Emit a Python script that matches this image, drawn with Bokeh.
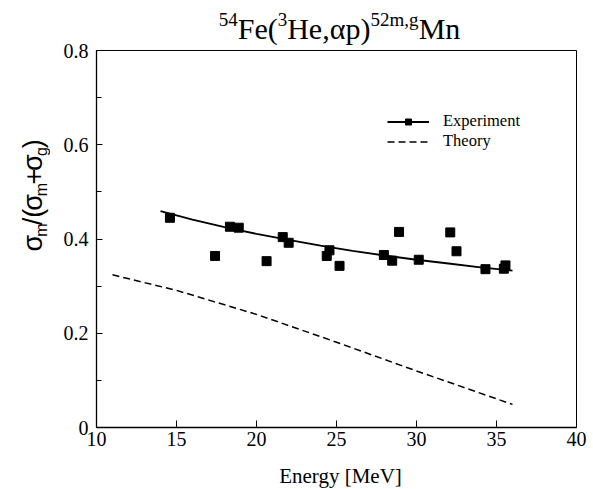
import math
from bokeh.plotting import figure
from bokeh.layouts import column, row
from bokeh.models import (FixedTicker, CustomJSTickFormatter, Legend, LegendItem, Range1d)
from bokeh.core.properties import value
from bokeh.embed import file_html
from bokeh.resources import INLINE

# ---------------- data ----------------
exp_energy = [14.59, 17.41, 18.34, 18.89, 20.63, 21.64, 22.01, 24.39, 24.56, 25.19,
              27.96, 28.48, 28.91, 30.14, 32.11, 32.50, 34.31, 35.46, 35.56]
exp_ratio = [0.445, 0.364, 0.426, 0.424, 0.353, 0.404, 0.392, 0.364, 0.376, 0.343,
             0.366, 0.354, 0.415, 0.356, 0.414, 0.374, 0.336, 0.337, 0.344]

fit_energy = [14, 16, 18, 20, 22, 24, 26, 28, 30, 32, 34, 36]
fit_ratio = [0.459, 0.441, 0.425, 0.411, 0.398, 0.386, 0.375, 0.365, 0.356, 0.348, 0.340, 0.333]

theory_energy = [11, 15, 20, 25, 30, 36]
theory_ratio = [0.324, 0.291, 0.240, 0.181, 0.120, 0.049]

x_ticks = [10, 15, 20, 25, 30, 35, 40]
x_tick_labels = ["10", "15", "20", "25", "30", "35", "40"]
y_ticks = [0, 0.2, 0.4, 0.6, 0.8]
y_minor_ticks = [0.1, 0.3, 0.5, 0.7]
y_tick_labels = ["0", "0.2", "0.4", "0.6", "0.8"]

series_labels = ["Experiment", "Theory"]
x_label = "Energy [MeV]"
# title 54Fe(3He,αp)52m,gMn : (text, is_superscript)
title_parts = [("54", True), ("Fe(", False), ("3", True), ("He,\u03b1p)", False),
               ("52m,g", True), ("Mn", False)]
# y label σm/(σm+σg) : (text, is_subscript)
ylabel_parts = [("\u03c3", False), ("m", True), ("/(", False), ("\u03c3", False),
                ("m", True), ("+", False), ("\u03c3", False), ("g", True), (")", False)]

SERIF = "Liberation Serif"
SANS = "Liberation Sans"

# approximate advance widths (em) used to lay out the multi-size text pieces
EM = {"54": 1.0, "Fe(": 1.333, "3": 0.5, "He,\u03b1p)": 2.78, "52m,g": 2.528, "Mn": 1.389,
      "\u03c3": 0.6, "m": 0.833, "/(": 0.611, "+": 0.584, "g": 0.556, ")": 0.333}
MID = 0.34  # distance of text-box middle above the baseline, in em

TOTAL_W, TOTAL_H = 593, 489
TITLE_H = 47
OVERLAP = 10                       # plot row slides up under the (transparent) title band
BOTTOM_H = 24
LEFT_W = 50
ROW_TOP = TITLE_H - OVERLAP
ROW_H = TOTAL_H - BOTTOM_H - ROW_TOP
FRAME_TOP, FRAME_H = 50, 377


def blank_fig(w, h, xr, yr, transparent=False):
    f = figure(width=w, height=h, x_range=xr, y_range=yr, output_backend="svg",
               toolbar_location=None, x_axis_location=None, y_axis_location=None,
               min_border=0, min_border_left=0, min_border_right=0,
               min_border_top=0, min_border_bottom=0)
    f.outline_line_color = None
    if transparent:
        f.background_fill_alpha = 0
        f.border_fill_alpha = 0
    else:
        f.background_fill_color = "white"
        f.border_fill_color = "white"
    for g in f.grid:
        g.visible = False
    return f


def put(f, s, x, y, size, font, align="center", angle=0.0):
    f.text(x=[x], y=[y], text=[s], text_font=value(font),
           text_font_size=value(f"{size}px"), text_align=align,
           text_baseline="middle", angle=angle, text_color="black")


# ---------------- title band (coords = page px, y negated) ----------------
tf = blank_fig(TOTAL_W, TITLE_H, Range1d(0, TOTAL_W), Range1d(-TITLE_H, 0))
MAIN_T, SUP_T = 30, 19
total = sum(EM[s] * (SUP_T if sup else MAIN_T) for s, sup in title_parts)
tx = 339 - total / 2
for s, sup in title_parts:
    size = SUP_T if sup else MAIN_T
    base = 25 if sup else 38.5
    put(tf, s, tx, -(base - MID * size), size, SERIF, align="left")
    tx += EM[s] * size

# ---------------- left strip with rotated y label ----------------
lf = blank_fig(LEFT_W, ROW_H, Range1d(0, LEFT_W), Range1d(-(ROW_TOP + ROW_H), -ROW_TOP),
               transparent=True)
MAIN_Y, SUB_Y = 27, 16
total = sum(EM[s] * (SUB_Y if sub else MAIN_Y) for s, sub in ylabel_parts)
ty = 201 + total / 2
for s, sub in ylabel_parts:
    size = SUB_Y if sub else MAIN_Y
    w = EM[s] * size
    base = 46 if sub else 42
    put(lf, s, base - MID * size, -(ty - w / 2), size, SANS, align="center",
        angle=math.pi / 2)
    ty -= w

# ---------------- bottom strip with x label ----------------
bf = blank_fig(TOTAL_W, BOTTOM_H, Range1d(0, TOTAL_W), Range1d(-TOTAL_H, -(TOTAL_H - BOTTOM_H)))
put(bf, x_label, 340, -(483 - MID * 21), 21, SERIF, align="center")

# ---------------- main plot ----------------
MAIN_W = TOTAL_W - LEFT_W
p = figure(width=MAIN_W, height=ROW_H, x_range=(10, 40), y_range=(0, 0.8),
           output_backend="svg", toolbar_location=None,
           min_border_left=46, min_border_right=17, min_border_top=FRAME_TOP - ROW_TOP,
           min_border_bottom=ROW_H - (FRAME_TOP - ROW_TOP) - FRAME_H)
p.background_fill_color = "white"
p.border_fill_alpha = 0
p.outline_line_color = "black"
p.outline_line_width = 1
p.xgrid.visible = False
p.ygrid.visible = False

xa = p.xaxis[0]
xa.ticker = FixedTicker(ticks=x_ticks, minor_ticks=[])
xa.formatter = CustomJSTickFormatter(args=dict(vals=x_ticks, labs=x_tick_labels), code="""
for (let i = 0; i < vals.length; i++) { if (Math.abs(vals[i] - tick) < 1e-9) return labs[i]; }
return '';""")
xa.major_tick_in = 7
xa.major_tick_out = 0
xa.minor_tick_in = 0
xa.minor_tick_out = 0
xa.axis_line_width = 1.3
xa.major_label_text_font = SERIF
xa.major_label_text_font_size = "20px"
xa.major_label_text_color = "black"
xa.major_label_standoff = 4

ya = p.yaxis[0]
ya.ticker = FixedTicker(ticks=y_ticks, minor_ticks=y_minor_ticks)
ya.formatter = CustomJSTickFormatter(args=dict(vals=y_ticks, labs=y_tick_labels), code="""
for (let i = 0; i < vals.length; i++) { if (Math.abs(vals[i] - tick) < 1e-9) return labs[i]; }
return '';""")
ya.major_tick_in = 6
ya.major_tick_out = 0
ya.minor_tick_in = 5
ya.minor_tick_out = 0
ya.axis_line_width = 1.3
ya.major_label_text_font = SERIF
ya.major_label_text_font_size = "20px"
ya.major_label_text_color = "black"
ya.major_label_standoff = 8

r_fit = p.line(fit_energy, fit_ratio, line_color="black", line_width=1.8)
r_pts = p.scatter(exp_energy, exp_ratio, marker="square", size=9,
                  fill_color="black", line_color="black")
r_th = p.line(theory_energy, theory_ratio, line_color="black", line_width=1.5,
              line_dash="7 4")

legend = Legend(items=[LegendItem(label=series_labels[0], renderers=[r_fit, r_pts]),
                       LegendItem(label=series_labels[1], renderers=[r_th])],
                location=(291, 276), glyph_width=42, glyph_height=15, label_height=15,
                label_standoff=14, spacing=-3, padding=0, margin=0,
                border_line_color=None, background_fill_alpha=0,
                label_text_font=SERIF, label_text_font_size="16.5px",
                label_text_color="black")
p.add_layout(legend)

mid_row = row(lf, p, spacing=0, margin=(-OVERLAP, 0, 0, 0))
layout = column(tf, mid_row, bf, spacing=0)
open("out.html", "w").write(file_html(layout, INLINE))
